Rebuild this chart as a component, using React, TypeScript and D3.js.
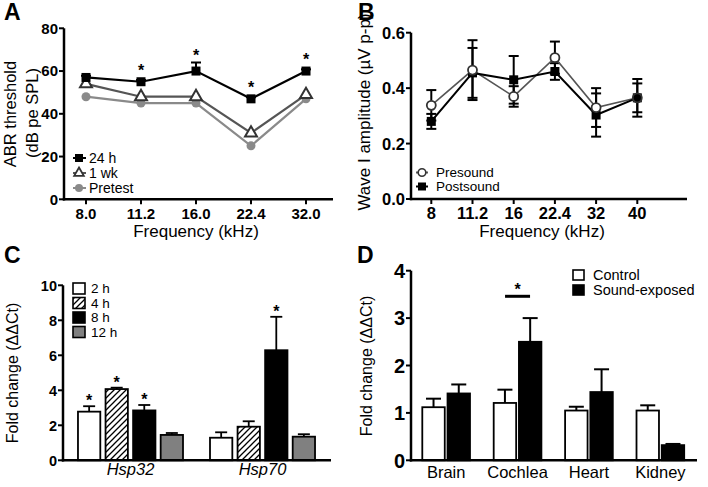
import React from "react";
import * as d3 from "d3";

const FONT = "'Liberation Sans', Arial, Helvetica, sans-serif";

// ---------- Panel A data ----------
const freqA = ["8.0", "11.2", "16.0", "22.4", "32.0"];
const a24h = [57, 55, 60, 47, 60];
const a24hErr = [0.8, 0.8, 4, 0.8, 0.8];
const a1wk = [54, 48, 48, 31, 49];
const aPretest = [48, 45, 45, 25, 47];
const aSig = [false, true, true, true, true];
const aYTicks = [0, 20, 40, 60, 80];
const aLegend = ["24 h", "1 wk", "Pretest"];

// ---------- Panel B data ----------
const freqB = ["8", "11.2", "16", "22.4", "32", "40"];
const bPre = [0.338, 0.465, 0.37, 0.51, 0.33, 0.365];
const bPreErr = [0.055, 0.108, 0.037, 0.058, 0.07, 0.068];
const bPost = [0.28, 0.455, 0.43, 0.46, 0.303, 0.365];
const bPostErr = [0.027, 0.09, 0.086, 0.03, 0.078, 0.052];
const bYTicks = [0, 0.2, 0.4, 0.6];
const bLegend = ["Presound", "Postsound"];

// ---------- Panel C data ----------
const genesC = ["Hsp32", "Hsp70"];
const timesC = ["2 h", "4 h", "8 h", "12 h"];
const c2h = [2.78, 1.29];
const c2hErr = [0.31, 0.31];
const c4h = [4.07, 1.92];
const c4hErr = [0.08, 0.31];
const c8h = [2.85, 6.29];
const c8hErr = [0.31, 1.91];
const c12h = [1.45, 1.35];
const c12hErr = [0.11, 0.14];
const cSig = [[true, true, true, false], [false, false, true, false]];
const cYTicks = [0, 2, 4, 6, 8, 10];

// ---------- Panel D data ----------
const tissuesD = ["Brain", "Cochlea", "Heart", "Kidney"];
const groupsD = ["Control", "Sound-exposed"];
const dControl = [1.12, 1.21, 1.05, 1.05];
const dControlErr = [0.18, 0.28, 0.08, 0.11];
const dExposed = [1.41, 2.5, 1.44, 0.32];
const dExposedErr = [0.19, 0.5, 0.48, 0.025];
const dSigTissue = "Cochlea";
const dSigLevel = 3.46;
const dYTicks = [0, 1, 2, 3, 4];

const fillsC = ["#ffffff", "url(#hatch)", "#000000", "#808080"];
const fillsD = ["#ffffff", "#000000"];

function Star({ x, cy, fs = 16 }: { x: number; cy: number; fs?: number }) {
  return (
    <text x={x} y={cy + 0.575 * fs} textAnchor="middle" fontSize={fs} fontWeight="bold">
      *
    </text>
  );
}

function YAxis({ x0, scale, ticks, fs, fmt, top }: any) {
  return (
    <g>
      <line x1={x0} x2={x0} y1={scale(top)} y2={scale(0) + 1.2} stroke="#000" strokeWidth={2.5} />
      {ticks.map((t: number) => (
        <g key={t}>
          <line x1={x0 - 5} x2={x0} y1={scale(t)} y2={scale(t)} stroke="#000" strokeWidth={2} />
          <text x={x0 - 6} y={scale(t)} dy="0.36em" textAnchor="end" fontSize={fs} fontWeight="bold">
            {fmt ? fmt(t) : t}
          </text>
        </g>
      ))}
    </g>
  );
}

function PanelA() {
  const x = d3.scalePoint<string>().domain(freqA).range([86, 306]);
  const y = d3.scaleLinear().domain([0, 80]).range([199.3, 28.3]);
  const line = d3.line<number>().x((_, i) => x(freqA[i])!).y((d) => y(d));
  const x0 = 64;
  const tri = d3.symbol().type(d3.symbolTriangle).size(62)()!;
  const sq = 9;
  return (
    <g>
      <text x={4} y={20} fontSize={23} fontWeight="bold">A</text>
      <YAxis x0={x0} scale={y} ticks={aYTicks} fs={15} top={80} />
      <line x1={x0 - 1.2} x2={333} y1={y(0)} y2={y(0)} stroke="#000" strokeWidth={2.5} />
      {freqA.map((f) => (
        <g key={f}>
          <line x1={x(f)} x2={x(f)} y1={y(0)} y2={y(0) + 5} stroke="#000" strokeWidth={2} />
          <text x={x(f)} y={219} textAnchor="middle" fontSize={15} fontWeight="bold">{f}</text>
        </g>
      ))}
      <text x={196} y={237} textAnchor="middle" fontSize={17}>Frequency (kHz)</text>
      <text transform={`translate(16,114) rotate(-90)`} textAnchor="middle" fontSize={16.5}>ABR threshold</text>
      <text transform={`translate(38,113) rotate(-90)`} textAnchor="middle" fontSize={16.5}>(dB pe SPL)</text>

      <path d={line(aPretest)!} fill="none" stroke="#8a8a8a" strokeWidth={2.2} />
      <path d={line(a1wk)!} fill="none" stroke="#555" strokeWidth={2.2} />
      <path d={line(a24h)!} fill="none" stroke="#000" strokeWidth={2.2} />
      {a24h.map((v, i) => (
        <g key={"e" + i}>
          <line x1={x(freqA[i])} x2={x(freqA[i])} y1={y(v)} y2={y(v + a24hErr[i])} stroke="#000" strokeWidth={2} />
          <line x1={x(freqA[i])! - 5} x2={x(freqA[i])! + 5} y1={y(v + a24hErr[i])} y2={y(v + a24hErr[i])} stroke="#000" strokeWidth={2} />
        </g>
      ))}
      {aPretest.map((v, i) => (
        <circle key={"p" + i} cx={x(freqA[i])} cy={y(v)} r={4.5} fill="#8a8a8a" />
      ))}
      {a1wk.map((v, i) => (
        <path key={"w" + i} d={tri} transform={`translate(${x(freqA[i])},${y(v)})`} fill="#fff" stroke="#333" strokeWidth={2} />
      ))}
      {a24h.map((v, i) => (
        <rect key={"s" + i} x={x(freqA[i])! - sq / 2} y={y(v) - sq / 2} width={sq} height={sq} fill="#000" />
      ))}
      {a24h.map((v, i) =>
        aSig[i] ? (
          <Star key={"st" + i} x={x(freqA[i])!} cy={Math.min(y(v) - 15, y(v + a24hErr[i]) - 11)} />
        ) : null
      )}
      {aLegend.map((l, i) => {
        const ly = 158 + i * 15;
        return (
          <g key={l}>
            <line x1={73} x2={86} y1={ly} y2={ly} stroke={i === 0 ? "#000" : i === 1 ? "#555" : "#8a8a8a"} strokeWidth={2} />
            {i === 0 && <rect x={75} y={ly - 4} width={8} height={8} fill="#000" />}
            {i === 1 && <path d={d3.symbol().type(d3.symbolTriangle).size(40)()!} transform={`translate(79,${ly})`} fill="#fff" stroke="#333" strokeWidth={1.8} />}
            {i === 2 && <circle cx={79} cy={ly} r={4} fill="#8a8a8a" />}
            <text x={89} y={ly} dy="0.36em" fontSize={14}>{l}</text>
          </g>
        );
      })}
    </g>
  );
}

function PanelB() {
  const x = d3.scalePoint<string>().domain(freqB).range([431.3, 637.3]);
  const y = d3.scaleLinear().domain([0, 0.6]).range([199, 32.7]);
  const line = d3.line<number>().x((_, i) => x(freqB[i])!).y((d) => y(d));
  const x0 = 411;
  const sq = 9;
  const errBars = (vals: number[], errs: number[], key: string) =>
    vals.map((v, i) => {
      const cx = x(freqB[i])!;
      return (
        <g key={key + i}>
          <line x1={cx} x2={cx} y1={y(v - errs[i])} y2={y(v + errs[i])} stroke="#000" strokeWidth={2} />
          <line x1={cx - 5} x2={cx + 5} y1={y(v + errs[i])} y2={y(v + errs[i])} stroke="#000" strokeWidth={2} />
          <line x1={cx - 5} x2={cx + 5} y1={y(v - errs[i])} y2={y(v - errs[i])} stroke="#000" strokeWidth={2} />
        </g>
      );
    });
  return (
    <g>
      <text x={358} y={20} fontSize={23} fontWeight="bold">B</text>
      <YAxis x0={x0} scale={y} ticks={bYTicks} fs={16.5} top={0.6} fmt={d3.format(".1f")} />
      <line x1={x0 - 1.2} x2={687} y1={y(0)} y2={y(0)} stroke="#000" strokeWidth={2.5} />
      {freqB.map((f) => (
        <g key={f}>
          <line x1={x(f)} x2={x(f)} y1={y(0)} y2={y(0) + 5} stroke="#000" strokeWidth={2} />
          <text x={x(f)} y={219} textAnchor="middle" fontSize={16.5} fontWeight="bold">{f}</text>
        </g>
      ))}
      <text x={542} y={237} textAnchor="middle" fontSize={17}>Frequency (kHz)</text>
      <text transform={`translate(370,112) rotate(-90)`} textAnchor="middle" fontSize={17}>Wave I amplitude (µV p-p)</text>

      {errBars(bPre, bPreErr, "pe")}
      {errBars(bPost, bPostErr, "qe")}
      <path d={line(bPre)!} fill="none" stroke="#555" strokeWidth={1.6} />
      <path d={line(bPost)!} fill="none" stroke="#000" strokeWidth={2} />
      {bPost.map((v, i) => (
        <rect key={"s" + i} x={x(freqB[i])! - sq / 2} y={y(v) - sq / 2} width={sq} height={sq} fill="#000" />
      ))}
      {bPre.map((v, i) => (
        <circle key={"c" + i} cx={x(freqB[i])} cy={y(v)} r={4.5} fill={i === 5 ? "#000" : "#fff"} stroke="#333" strokeWidth={1.8} />
      ))}
      {bLegend.map((l, i) => {
        const ly = 172.5 + i * 14;
        return (
          <g key={l}>
            <line x1={416} x2={428} y1={ly} y2={ly} stroke={i === 0 ? "#555" : "#000"} strokeWidth={2} />
            {i === 0 ? (
              <circle cx={422} cy={ly} r={3.8} fill="#fff" stroke="#333" strokeWidth={1.6} />
            ) : (
              <rect x={418} y={ly - 4} width={8} height={8} fill="#000" />
            )}
            <text x={436} y={ly} dy="0.36em" fontSize={13.5}>{l}</text>
          </g>
        );
      })}
    </g>
  );
}

function PanelC() {
  const y = d3.scaleLinear().domain([0, 10]).range([460.3, 285.3]);
  const x = d3.scaleBand<string>().domain(genesC).range([62, 331]).paddingInner(0.2045).paddingOuter(0.121);
  const xs = d3.scaleBand<string>().domain(timesC).range([0, x.bandwidth()]).paddingInner(0.19);
  const x0 = 63;
  const vals = [c2h, c4h, c8h, c12h];
  const errs = [c2hErr, c4hErr, c8hErr, c12hErr];
  return (
    <g>
      <text x={4} y={263} fontSize={23} fontWeight="bold">C</text>
      <YAxis x0={x0} scale={y} ticks={cYTicks} fs={14.5} top={10} />
      <text transform={`translate(18,373) rotate(-90)`} textAnchor="middle" fontSize={16}>Fold change (ΔΔCt)</text>
      {genesC.map((g, gi) => (
        <g key={g}>
          {timesC.map((t, ti) => {
            const bx = x(g)! + xs(t)!;
            const w = xs.bandwidth();
            const v = vals[ti][gi];
            const e = errs[ti][gi];
            const cx = bx + w / 2;
            return (
              <g key={t}>
                <line x1={cx} x2={cx} y1={y(v)} y2={y(v + e)} stroke="#000" strokeWidth={1.8} />
                <line x1={cx - 6} x2={cx + 6} y1={y(v + e)} y2={y(v + e)} stroke="#000" strokeWidth={1.8} />
                <rect x={bx} y={y(v)} width={w} height={y(0) - y(v)} fill={fillsC[ti]} stroke="#000" strokeWidth={1.8} />
                {cSig[gi][ti] && <Star x={cx} cy={y(v + e) - 9} fs={16} />}
              </g>
            );
          })}
          <text x={x(g)! + x.bandwidth() / 2} y={475} textAnchor="middle" fontSize={16.5} fontStyle="italic">{g}</text>
        </g>
      ))}
      <line x1={x0 - 1.2} x2={331} y1={y(0)} y2={y(0)} stroke="#000" strokeWidth={2.5} />
      {timesC.map((t, i) => {
        const ly = 288.5 + i * 14.5;
        return (
          <g key={t}>
            <rect x={73} y={ly - 5.5} width={12} height={11} fill={fillsC[i]} stroke="#000" strokeWidth={1.6} />
            <text x={91} y={ly} dy="0.36em" fontSize={13.5}>{t}</text>
          </g>
        );
      })}
    </g>
  );
}

function PanelD() {
  const y = d3.scaleLinear().domain([0, 4]).range([460.3, 270.7]);
  const x = d3.scaleBand<string>().domain(tissuesD).range([407.3, 699.2]).paddingInner(0.332).paddingOuter(0.21);
  const xs = d3.scaleBand<string>().domain(groupsD).range([0, x.bandwidth()]).paddingInner(0.11);
  const x0 = 411;
  const vals = [dControl, dExposed];
  const errs = [dControlErr, dExposedErr];
  const sigX = x(dSigTissue)! + x.bandwidth() / 2;
  return (
    <g>
      <text x={357} y={263} fontSize={23} fontWeight="bold">D</text>
      <YAxis x0={x0} scale={y} ticks={dYTicks} fs={20} top={4} />
      <text transform={`translate(372,366) rotate(-90)`} textAnchor="middle" fontSize={16}>Fold change (ΔΔCt)</text>
      {tissuesD.map((t, ti) => (
        <g key={t}>
          {groupsD.map((g, gi) => {
            const bx = x(t)! + xs(g)!;
            const w = xs.bandwidth();
            const v = vals[gi][ti];
            const e = errs[gi][ti];
            const cx = bx + w / 2;
            return (
              <g key={g}>
                <line x1={cx} x2={cx} y1={y(v)} y2={y(v + e)} stroke="#000" strokeWidth={2} />
                <line x1={cx - 7.5} x2={cx + 7.5} y1={y(v + e)} y2={y(v + e)} stroke="#000" strokeWidth={2} />
                <rect x={bx} y={y(v)} width={w} height={y(0) - y(v)} fill={fillsD[gi]} stroke="#000" strokeWidth={1.8} />
              </g>
            );
          })}
          <text x={x(t)! + x.bandwidth() / 2} y={478} textAnchor="middle" fontSize={16.5}>{t}</text>
        </g>
      ))}
      <line x1={sigX - 12.5} x2={sigX + 12.5} y1={y(dSigLevel)} y2={y(dSigLevel)} stroke="#000" strokeWidth={3} />
      <Star x={sigX} cy={y(dSigLevel) - 10} fs={16} />
      <line x1={x0 - 1.2} x2={697} y1={y(0)} y2={y(0)} stroke="#000" strokeWidth={2.5} />
      {groupsD.map((g, i) => {
        const ly = 275 + i * 15;
        return (
          <g key={g}>
            <rect x={573} y={ly - 5} width={11} height={10} fill={fillsD[i]} stroke="#000" strokeWidth={1.6} />
            <text x={593} y={ly} dy="0.36em" fontSize={14.5}>{g}</text>
          </g>
        );
      })}
    </g>
  );
}

export default function App() {
  return (
    <div style={{ position: "absolute", left: 0, top: 0 }}>
      <svg width={708} height={487} style={{ display: "block", background: "#fff" }} fontFamily={FONT}>
        <defs>
          <pattern id="hatch" patternUnits="userSpaceOnUse" width={6} height={6}>
            <path d="M0,6 L6,0 M-1.5,1.5 L1.5,-1.5 M4.5,7.5 L7.5,4.5" stroke="#000" strokeWidth={1.3} />
          </pattern>
        </defs>
        <rect x={0} y={0} width={708} height={487} fill="#fff" />
        <PanelA />
        <PanelB />
        <PanelC />
        <PanelD />
      </svg>
    </div>
  );
}
